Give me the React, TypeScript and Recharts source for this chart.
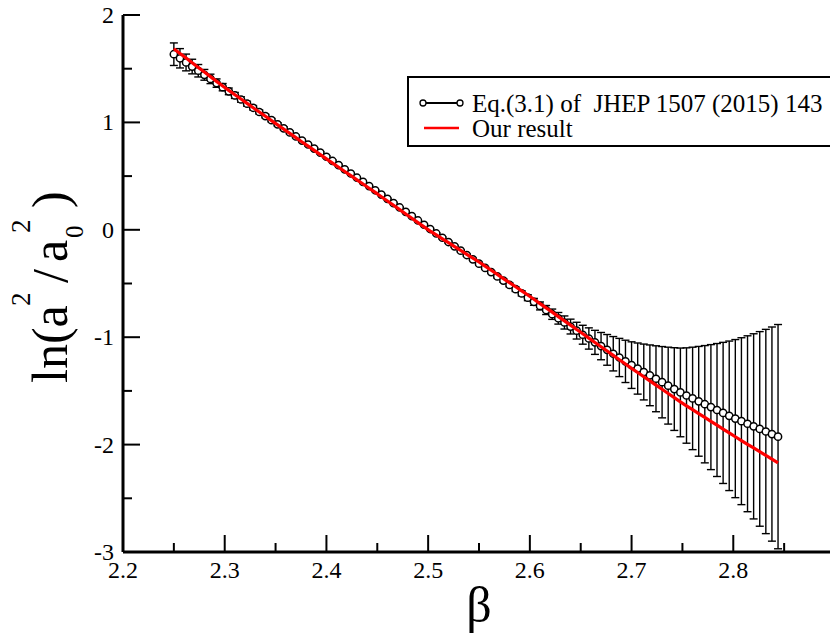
import React from 'react';
import { ComposedChart, Line, XAxis, YAxis, ErrorBar } from 'recharts';

const beta = [
  2.25, 2.256, 2.262, 2.268, 2.274, 2.28, 2.286, 2.292, 2.298, 2.304,
  2.31, 2.316, 2.322, 2.328, 2.334, 2.34, 2.346, 2.352, 2.358, 2.364,
  2.37, 2.376, 2.382, 2.388, 2.394, 2.4, 2.406, 2.412, 2.418, 2.424,
  2.43, 2.436, 2.442, 2.448, 2.454, 2.46, 2.466, 2.472, 2.478, 2.484,
  2.49, 2.496, 2.502, 2.508, 2.514, 2.52, 2.526, 2.532, 2.538, 2.544,
  2.55, 2.556, 2.562, 2.568, 2.574, 2.58, 2.586, 2.592, 2.598, 2.604,
  2.61, 2.616, 2.622, 2.628, 2.634, 2.64, 2.646, 2.652, 2.658, 2.664,
  2.67, 2.676, 2.682, 2.688, 2.694, 2.7, 2.706, 2.712, 2.718, 2.724,
  2.73, 2.736, 2.742, 2.748, 2.754, 2.76, 2.766, 2.772, 2.778, 2.784,
  2.79, 2.796, 2.802, 2.808, 2.814, 2.82, 2.826, 2.832, 2.838, 2.844,
];

const eqValues = [
  1.635, 1.597, 1.558, 1.52, 1.481, 1.443, 1.405, 1.366, 1.328, 1.289,
  1.251, 1.213, 1.174, 1.136, 1.097, 1.059, 1.021, 0.982, 0.945, 0.907,
  0.869, 0.831, 0.794, 0.756, 0.718, 0.68, 0.641, 0.602, 0.563, 0.524,
  0.485, 0.446, 0.407, 0.368, 0.328, 0.288, 0.248, 0.208, 0.167, 0.127,
  0.087, 0.047, 0.007, -0.034, -0.074, -0.114, -0.154, -0.194, -0.235, -0.275,
  -0.315, -0.355, -0.394, -0.434, -0.473, -0.513, -0.553, -0.592, -0.632, -0.671,
  -0.709, -0.747, -0.786, -0.824, -0.863, -0.901, -0.939, -0.977, -1.012, -1.048,
  -1.083, -1.118, -1.154, -1.189, -1.225, -1.26, -1.292, -1.324, -1.355, -1.387,
  -1.419, -1.451, -1.483, -1.514, -1.543, -1.57, -1.597, -1.624, -1.651, -1.678,
  -1.705, -1.732, -1.758, -1.782, -1.806, -1.83, -1.854, -1.878, -1.902, -1.926,
];

const eqErrors = [
  0.105, 0.09, 0.078, 0.068, 0.058, 0.05, 0.044, 0.039, 0.034, 0.031,
  0.028, 0.025, 0.023, 0.021, 0.019, 0.017, 0.016, 0.015, 0.014, 0.013,
  0.012, 0.011, 0.01, 0.01, 0.009, 0.009, 0.008, 0.008, 0.007, 0.007,
  0.007, 0.006, 0.006, 0.006, 0.006, 0.006, 0.006, 0.006, 0.006, 0.006,
  0.007, 0.007, 0.007, 0.007, 0.008, 0.008, 0.009, 0.009, 0.01, 0.01,
  0.011, 0.012, 0.013, 0.014, 0.016, 0.018, 0.021, 0.024, 0.028, 0.032,
  0.037, 0.042, 0.048, 0.054, 0.061, 0.069, 0.078, 0.088, 0.099, 0.112,
  0.127, 0.143, 0.16, 0.178, 0.197, 0.217, 0.238, 0.26, 0.283, 0.307,
  0.332, 0.358, 0.385, 0.413, 0.444, 0.477, 0.511, 0.546, 0.582, 0.619,
  0.657, 0.696, 0.736, 0.777, 0.819, 0.862, 0.906, 0.951, 0.997, 1.044,
];

const ourValues = [
  1.685, 1.642, 1.599, 1.555, 1.512, 1.469, 1.426, 1.382, 1.339, 1.298,
  1.258, 1.218, 1.177, 1.137, 1.097, 1.057, 1.017, 0.977, 0.937, 0.898,
  0.858, 0.818, 0.779, 0.739, 0.7, 0.66, 0.621, 0.582, 0.543, 0.504,
  0.465, 0.426, 0.387, 0.348, 0.308, 0.268, 0.228, 0.188, 0.147, 0.107,
  0.067, 0.027, -0.012, -0.048, -0.084, -0.12, -0.156, -0.192, -0.228, -0.264,
  -0.3, -0.338, -0.377, -0.415, -0.454, -0.492, -0.53, -0.569, -0.607, -0.647,
  -0.687, -0.727, -0.767, -0.808, -0.848, -0.888, -0.928, -0.968, -1.009, -1.049,
  -1.089, -1.129, -1.169, -1.21, -1.25, -1.29, -1.329, -1.368, -1.407, -1.446,
  -1.485, -1.524, -1.563, -1.602, -1.639, -1.675, -1.711, -1.747, -1.783, -1.819,
  -1.855, -1.891, -1.927, -1.962, -1.997, -2.031, -2.066, -2.101, -2.136, -2.17,
];

const xTicks = [2.2, 2.25, 2.3, 2.35, 2.4, 2.45, 2.5, 2.55, 2.6, 2.65, 2.7, 2.75, 2.8, 2.85, 2.9];
const xTickLabels = ['2.2', '2.3', '2.4', '2.5', '2.6', '2.7', '2.8'];
const yTicks = [-3, -2.5, -2, -1.5, -1, -0.5, 0, 0.5, 1, 1.5, 2];
const yTickLabels = ['-3', '-2', '-1', '0', '1', '2'];
const legendLabels = ['Eq.(3.1) of  JHEP 1507 (2015) 143', 'Our result'];
const xTitle = 'β';

const data = beta.map((b, i) => ({ beta: b, eq: eqValues[i], eqErr: eqErrors[i], ours: ourValues[i] }));

const FONT = '"Liberation Serif", "Times New Roman", Times, serif';
const MAJOR = 17;
const MINOR = 9;
const TICK_W = 2;
const AXIS = { stroke: '#000', strokeWidth: 3 };

const isMajor = (v: number, step: number) => Math.abs(v / step - Math.round(v / step)) < 1e-6;
const findLabel = (labels: string[], v: number) => labels.find((l) => Math.abs(parseFloat(l) - v) < 1e-6);

const BottomTick = (props: any) => {
  const { x, y, payload } = props;
  const v = payload.value;
  const len = isMajor(v, 0.1) ? MAJOR : MINOR;
  const label = findLabel(xTickLabels, v);
  return (
    <g>
      <line x1={x} y1={y} x2={x} y2={y - len} stroke="#000" strokeWidth={TICK_W} />
      {label && (
        <text x={x} y={y + 26} textAnchor="middle" fontFamily={FONT} fontSize={24} fill="#000">
          {label}
        </text>
      )}
    </g>
  );
};

const TopTick = (props: any) => {
  const { x, y, payload } = props;
  const len = isMajor(payload.value, 0.1) ? MAJOR : MINOR;
  return <line x1={x} y1={y} x2={x} y2={y + len} stroke="#000" strokeWidth={TICK_W} />;
};

const LeftTick = (props: any) => {
  const { x, y, payload } = props;
  const v = payload.value;
  const len = isMajor(v, 1) ? MAJOR : MINOR;
  const label = findLabel(yTickLabels, v);
  return (
    <g>
      <line x1={x} y1={y} x2={x + len} y2={y} stroke="#000" strokeWidth={TICK_W} />
      {label && (
        <text x={x - 9} y={y + 8} textAnchor="end" fontFamily={FONT} fontSize={24} fill="#000">
          {label}
        </text>
      )}
    </g>
  );
};

const RightTick = (props: any) => {
  const { x, y, payload } = props;
  const len = isMajor(payload.value, 1) ? MAJOR : MINOR;
  return <line x1={x} y1={y} x2={x - len} y2={y} stroke="#000" strokeWidth={TICK_W} />;
};

export default function App() {
  return (
    <div
      style={{
        position: 'fixed',
        left: 0,
        top: 0,
        width: 830,
        height: 637,
        overflow: 'hidden',
        background: '#fff',
      }}
    >
      <ComposedChart width={860} height={637} data={data} margin={{ top: 15, right: 25, bottom: 0, left: 0 }}>
        <XAxis
          xAxisId="b"
          type="number"
          dataKey="beta"
          domain={[2.2, 2.9]}
          ticks={xTicks}
          interval={0}
          allowDataOverflow
          height={85}
          tickSize={0}
          tickMargin={0}
          tickLine={false}
          axisLine={AXIS}
          tick={BottomTick}
        />
        <XAxis
          xAxisId="t"
          orientation="top"
          type="number"
          domain={[2.2, 2.9]}
          ticks={xTicks}
          interval={0}
          allowDataOverflow
          height={0}
          tickSize={0}
          tickMargin={0}
          tickLine={false}
          axisLine={AXIS}
          tick={TopTick}
        />
        <YAxis
          yAxisId="l"
          type="number"
          domain={[-3, 2]}
          ticks={yTicks}
          interval={0}
          allowDataOverflow
          width={123}
          tickSize={0}
          tickMargin={0}
          tickLine={false}
          axisLine={AXIS}
          tick={LeftTick}
        />
        <YAxis
          yAxisId="r"
          orientation="right"
          type="number"
          domain={[-3, 2]}
          ticks={yTicks}
          interval={0}
          allowDataOverflow
          width={0}
          tickSize={0}
          tickMargin={0}
          tickLine={false}
          axisLine={AXIS}
          tick={RightTick}
        />
        <Line
          xAxisId="b"
          yAxisId="l"
          type="linear"
          dataKey="eq"
          stroke="#000"
          strokeWidth={2}
          dot={{ r: 3.6, stroke: '#000', strokeWidth: 1.5, fill: '#fff' }}
          activeDot={false}
          isAnimationActive={false}
        >
          <ErrorBar dataKey="eqErr" direction="y" width={4} stroke="#000" strokeWidth={1.4} />
        </Line>
        <Line
          xAxisId="b"
          yAxisId="l"
          type="linear"
          dataKey="ours"
          stroke="#ff0000"
          strokeWidth={3.2}
          dot={false}
          activeDot={false}
          isAnimationActive={false}
          {...({ zIndex: 1500 } as any)}
        />
      </ComposedChart>
      <svg
        width={830}
        height={637}
        style={{ position: 'absolute', left: 0, top: 0, pointerEvents: 'none' }}
      >
        <text transform="translate(67,383) rotate(-90)" fontFamily={FONT} fill="#000">
          <tspan x={0} y={0} fontSize={50}>ln(a</tspan>
          <tspan x={77} y={-37} fontSize={27}>2</tspan>
          <tspan x={100} y={0} fontSize={50}>/</tspan>
          <tspan x={121} y={0} fontSize={50}>a</tspan>
          <tspan x={145} y={16} fontSize={25}>0</tspan>
          <tspan x={150} y={-37} fontSize={27}>2</tspan>
          <tspan x={175} y={0} fontSize={50}>)</tspan>
        </text>
        <text x={479} y={622} textAnchor="middle" fontFamily={FONT} fontSize={50} fill="#000">
          {xTitle}
        </text>
        <rect x={408} y={77} width={440} height={69} fill="#fff" stroke="#000" strokeWidth={2} />
        <line x1={423} y1={103} x2={460} y2={103} stroke="#000" strokeWidth={2} />
        <circle cx={423} cy={103} r={3} fill="#fff" stroke="#000" strokeWidth={1.3} />
        <circle cx={460} cy={103} r={3} fill="#fff" stroke="#000" strokeWidth={1.3} />
        <text x={472} y={112} fontFamily={FONT} fontSize={25} fill="#000" style={{ whiteSpace: 'pre' }}>
          {legendLabels[0]}
        </text>
        <line x1={424} y1={128} x2={459} y2={128} stroke="#ff0000" strokeWidth={2.5} />
        <text x={472} y={137} fontFamily={FONT} fontSize={25} fill="#000">
          {legendLabels[1]}
        </text>
      </svg>
    </div>
  );
}
